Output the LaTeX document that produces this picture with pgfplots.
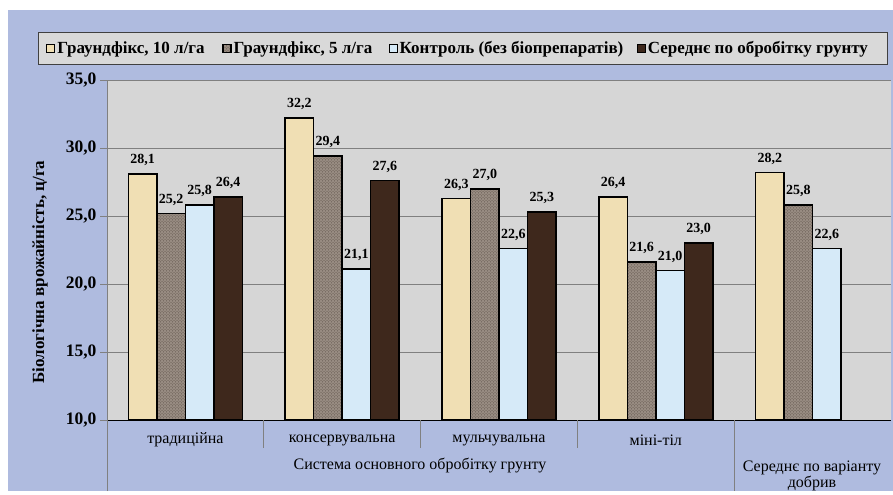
\documentclass[border=0pt]{standalone}
\usepackage{fontspec}
\setmainfont{Liberation Serif}
\usepackage{pgfplots}
\pgfplotsset{compat=1.18}
\usetikzlibrary{patterns}
\definecolor{bgblue}{RGB}{175,187,223}
\definecolor{plotgray}{RGB}{214,214,214}
\definecolor{leggray}{RGB}{217,217,217}
\definecolor{gridgray}{RGB}{128,128,128}
\definecolor{tanc}{RGB}{240,223,180}
\definecolor{granite}{RGB}{152,140,130}
\definecolor{granitedark}{RGB}{90,78,70}
\definecolor{lblue}{RGB}{214,234,248}
\definecolor{wood}{RGB}{62,40,28}
\newcommand\fs[1]{\fontsize{#1}{#1}\selectfont}
\begin{document}
\begin{tikzpicture}[x=1pt,y=1pt]
\fill[white] (0,0) rectangle (893,491);
\fill[bgblue] (8,0) rectangle (893,481);
\begin{axis}[
  at={(107pt,71pt)}, anchor=south west,
  scale only axis, width=784pt, height=340pt,
  ybar=0pt, bar width=28.5pt,
  xmin=-0.5, xmax=4.5, ymin=10, ymax=35,
  xtick={0,1,2,3},
  xticklabels={традиційна,консервувальна,мульчувальна,міні-тіл},
  x tick style={draw=none},
  xticklabel style={font=\fs{16}, anchor=center, yshift=-13pt},
  ytick={10,15,...,35},
  yticklabel style={font=\bfseries\fs{17.5}},
  tick align=outside, major tick length=7pt,
  y tick style={draw=gridgray, line width=0.8pt},
  ymajorgrids, grid style={draw=gridgray, line width=0.8pt},
  axis background/.style={fill=plotgray},
  axis x line*=bottom, axis y line*=left,
  x axis line style={draw=black, line width=1pt},
  y axis line style={draw=gridgray, line width=1pt},
  /pgf/number format/.cd, fixed, fixed zerofill, precision=1, use comma, assume math mode=true,
  /pgfplots/.cd,
  nodes near coords,
  every node near coord/.append style={font=\bfseries\fs{14}, text=black, yshift=4pt},
  ylabel={Біологічна врожайність, ц/га},
  ylabel style={font=\bfseries\fs{17}, at={(axis description cs:0,0.5)}, anchor=center, yshift=67pt, xshift=-22pt},
  legend columns=4,
  legend cell align=left,
  legend image code/.code={\draw[#1,draw=black,line width=1.2pt] (0pt,-4pt) rectangle (8pt,4pt);},
  legend style={at={(0.4535,1.141)}, anchor=north, fill=leggray, draw=black!75, line width=0.8pt,
     font=\bfseries\fs{17}, inner xsep=8pt, inner ysep=7pt,
     /tikz/every even column/.append style={column sep=0pt}},
]
\addplot[draw=black, line width=1.5pt, fill=tanc] coordinates {(0,28.1) (1,32.2) (2,26.3) (3,26.4) (4,28.2)};
\addlegendentry{\makebox[163pt][l]{Граундфікс, 10 л/га}}
\addplot[draw=black, line width=1.5pt, fill=granite, postaction={pattern=crosshatch dots, pattern color=granitedark}] coordinates {(0,25.2) (1,29.4) (2,27.0) (3,21.6) (4,25.8)};
\addlegendentry{\makebox[153pt][l]{Граундфікс, 5 л/га}}
\addplot[draw=black, line width=1.5pt, fill=lblue] coordinates {(0,25.8) (1,21.1) (2,22.6) (3,21.0) (4,22.6)};
\addlegendentry{\makebox[235pt][l]{Контроль (без біопрепаратів)}}
\addplot[draw=black, line width=1.5pt, fill=wood] coordinates {(0,26.4) (1,27.6) (2,25.3) (3,23.0)};
\addlegendentry{\makebox[229pt][l]{Середнє по обробітку грунту}}
\end{axis}
\draw[gridgray, line width=1pt] (107,0) -- (107,71);
\foreach \xx in {263.8,420.6,577.4} \draw[gridgray, line width=1pt] (\xx,71) -- (\xx,43);
\draw[gridgray, line width=1pt] (734.2,71) -- (734.2,0);
\node[font=\fs{16}] at (420,26) {Система основного обробітку грунту};
\node[font=\fs{16}, align=center] at (812,15) {Середнє по варіанту\\[0pt]добрив};
\end{tikzpicture}
\end{document}
